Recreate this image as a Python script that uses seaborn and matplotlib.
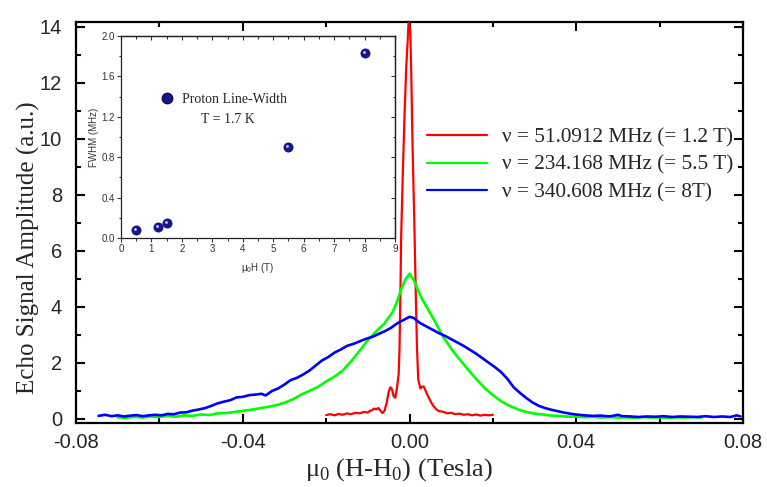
import matplotlib
matplotlib.use("Agg")
import matplotlib.pyplot as plt
import matplotlib.transforms as mtransforms
from matplotlib.lines import Line2D
import pandas as pd
import seaborn as sns

# Echo amplitude (a.u.) versus field offset mu0(H-H0) (T) for the three frequencies
red_pts = [(-0.0200, 0.13), (-0.0190, 0.16), (-0.0180, 0.12), (-0.0170, 0.17), (-0.0160, 0.14),
           (-0.0150, 0.19), (-0.0140, 0.16), (-0.0130, 0.21), (-0.0120, 0.19), (-0.0110, 0.24),
           (-0.0100, 0.22), (-0.0095, 0.28), (-0.0090, 0.30), (-0.0085, 0.36), (-0.0080, 0.33),
           (-0.0075, 0.38), (-0.0070, 0.30), (-0.0065, 0.20), (-0.0060, 0.28), (-0.0055, 0.55),
           (-0.0050, 0.95), (-0.0046, 1.12), (-0.0042, 1.05), (-0.0038, 0.80), (-0.0034, 0.75),
           (-0.0030, 1.10), (-0.0026, 1.60), (-0.0024, 2.45), (-0.0022, 4.30), (-0.0020, 6.50),
           (-0.0016, 8.80), (-0.0012, 10.80), (-0.0008, 12.50), (-0.0004, 13.60), (-0.0002, 14.25),
           (0.0002, 13.80), (0.0004, 12.50), (0.0007, 10.00), (0.0010, 8.00), (0.0012, 6.70),
           (0.0015, 4.50), (0.0018, 2.50), (0.0021, 1.40), (0.0026, 1.08), (0.0030, 1.14),
           (0.0034, 1.15), (0.0038, 1.02), (0.0042, 0.88), (0.0046, 0.76), (0.0052, 0.58),
           (0.0058, 0.44), (0.0064, 0.34), (0.0070, 0.27), (0.0080, 0.25), (0.0090, 0.19),
           (0.0100, 0.21), (0.0110, 0.16), (0.0120, 0.18), (0.0130, 0.14), (0.0140, 0.16),
           (0.0150, 0.12), (0.0160, 0.15), (0.0170, 0.11), (0.0180, 0.14), (0.0190, 0.12),
           (0.0200, 0.14)]

green_pts = [(-0.0700, 0.05), (-0.0680, 0.03), (-0.0660, 0.07), (-0.0640, 0.04), (-0.0620, 0.08),
             (-0.0600, 0.06), (-0.0580, 0.10), (-0.0560, 0.07), (-0.0540, 0.12), (-0.0520, 0.10),
             (-0.0500, 0.15), (-0.0480, 0.13), (-0.0460, 0.19), (-0.0440, 0.20), (-0.0420, 0.24),
             (-0.0400, 0.28), (-0.0380, 0.32), (-0.0360, 0.37), (-0.0340, 0.42), (-0.0320, 0.48),
             (-0.0300, 0.57), (-0.0280, 0.69), (-0.0260, 0.86), (-0.0240, 0.99), (-0.0220, 1.13),
             (-0.0200, 1.33), (-0.0180, 1.50), (-0.0160, 1.72), (-0.0140, 2.05), (-0.0120, 2.42),
             (-0.0100, 2.80), (-0.0080, 3.12), (-0.0060, 3.40), (-0.0040, 3.82), (-0.0030, 4.18),
             (-0.0020, 4.62), (-0.0010, 4.96), (0.0000, 5.18), (0.0010, 4.96), (0.0020, 4.60),
             (0.0030, 4.28), (0.0040, 4.02), (0.0060, 3.50), (0.0080, 2.94), (0.0100, 2.50),
             (0.0120, 2.12), (0.0140, 1.76), (0.0160, 1.42), (0.0180, 1.10), (0.0200, 0.84),
             (0.0220, 0.62), (0.0240, 0.46), (0.0260, 0.33), (0.0280, 0.24), (0.0300, 0.18),
             (0.0320, 0.15), (0.0340, 0.11), (0.0360, 0.10), (0.0380, 0.07), (0.0400, 0.08),
             (0.0420, 0.05), (0.0440, 0.07), (0.0460, 0.04), (0.0480, 0.06), (0.0500, 0.04),
             (0.0520, 0.05), (0.0540, 0.03), (0.0560, 0.06), (0.0580, 0.04), (0.0600, 0.05),
             (0.0620, 0.03), (0.0640, 0.05), (0.0660, 0.04), (0.0680, 0.06), (0.0700, 0.04)]

blue_pts = [(-0.0746, 0.10), (-0.0730, 0.14), (-0.0715, 0.09), (-0.0700, 0.12), (-0.0685, 0.08),
            (-0.0670, 0.11), (-0.0655, 0.13), (-0.0640, 0.09), (-0.0625, 0.12), (-0.0610, 0.14),
            (-0.0595, 0.12), (-0.0580, 0.17), (-0.0565, 0.16), (-0.0550, 0.22), (-0.0535, 0.23),
            (-0.0520, 0.29), (-0.0505, 0.33), (-0.0490, 0.38), (-0.0475, 0.46), (-0.0460, 0.55),
            (-0.0445, 0.61), (-0.0430, 0.66), (-0.0415, 0.76), (-0.0400, 0.78), (-0.0385, 0.84),
            (-0.0370, 0.86), (-0.0355, 0.89), (-0.0345, 0.83), (-0.0330, 0.99), (-0.0315, 1.08),
            (-0.0300, 1.22), (-0.0285, 1.38), (-0.0270, 1.46), (-0.0255, 1.58), (-0.0240, 1.72),
            (-0.0225, 1.90), (-0.0210, 2.08), (-0.0195, 2.20), (-0.0180, 2.36), (-0.0165, 2.47),
            (-0.0150, 2.60), (-0.0135, 2.67), (-0.0120, 2.76), (-0.0105, 2.85), (-0.0090, 2.92),
            (-0.0075, 3.02), (-0.0060, 3.12), (-0.0045, 3.24), (-0.0030, 3.40), (-0.0015, 3.52),
            (0.0000, 3.64), (0.0010, 3.60), (0.0025, 3.42), (0.0040, 3.30), (0.0055, 3.18),
            (0.0070, 3.06), (0.0085, 2.96), (0.0100, 2.84), (0.0115, 2.72), (0.0130, 2.60),
            (0.0145, 2.46), (0.0160, 2.32), (0.0175, 2.16), (0.0190, 2.00), (0.0205, 1.84),
            (0.0220, 1.66), (0.0235, 1.42), (0.0250, 1.12), (0.0265, 0.92), (0.0280, 0.74),
            (0.0295, 0.58), (0.0310, 0.46), (0.0325, 0.38), (0.0340, 0.32), (0.0355, 0.27),
            (0.0370, 0.22), (0.0385, 0.18), (0.0400, 0.15), (0.0420, 0.12), (0.0440, 0.10),
            (0.0460, 0.11), (0.0480, 0.08), (0.0500, 0.14), (0.0510, 0.09), (0.0530, 0.08),
            (0.0550, 0.06), (0.0570, 0.08), (0.0590, 0.07), (0.0610, 0.09), (0.0630, 0.06),
            (0.0650, 0.08), (0.0670, 0.07), (0.0690, 0.06), (0.0710, 0.09), (0.0730, 0.06),
            (0.0750, 0.08), (0.0770, 0.06), (0.0785, 0.12), (0.0794, 0.08)]

series_labels = ["ν = 51.0912 MHz (= 1.2 T)",
                 "ν = 234.168 MHz (= 5.5 T)",
                 "ν = 340.608 MHz (= 8T)"]
series_colors = ["#ff0000", "#00ff00", "#0000ff"]
series_widths = [1.6, 1.9, 1.9]

# Inset: proton line width versus applied field
inset_field = [0.5, 1.2, 1.5, 5.5, 8.0]
inset_fwhm = [0.08, 0.11, 0.15, 0.90, 1.83]

x_ticks = [-0.08, -0.04, 0.00, 0.04, 0.08]
x_ticklabels = ["-0.08", "-0.04", "0.00", "0.04", "0.08"]
y_ticks = [0, 2, 4, 6, 8, 10, 12, 14]

sns.set_theme(style="ticks")
plt.rcParams["font.family"] = ["Liberation Serif", "DejaVu Serif"]
plt.rcParams["mathtext.fontset"] = "custom"
plt.rcParams["mathtext.rm"] = "Liberation Serif"
plt.rcParams["mathtext.sf"] = "Liberation Sans"
plt.rcParams["axes.unicode_minus"] = False

SANS = ["Liberation Sans", "DejaVu Sans"]


def to_frame(pts):
    xs, ys = zip(*pts)
    return pd.DataFrame({"field": xs, "amp": ys})


fig = plt.figure(figsize=(7.67, 4.87), dpi=100)
ax = fig.add_axes([0.0991, 0.1314, 0.8696, 0.8234])

frames = [to_frame(red_pts), to_frame(green_pts), to_frame(blue_pts)]
# green first, blue over it, red on top
for idx in (1, 2, 0):
    sns.lineplot(data=frames[idx], x="field", y="amp", ax=ax, color=series_colors[idx],
                 linewidth=series_widths[idx], estimator=None, sort=False,
                 zorder=3 + idx * 0.1)

ax.set_xlim(-0.08, 0.08)
ax.set_ylim(-0.154, 14.17)
ax.set_xticks(x_ticks)
ax.set_xticklabels(x_ticklabels)
ax.set_xticks([-0.06, -0.02, 0.02, 0.06], minor=True)
ax.set_yticks(y_ticks)
ax.set_yticks([1, 3, 5, 7, 9, 11, 13], minor=True)
ax.tick_params(which="both", direction="in", top=True, right=True, width=1.5, color="black")
ax.tick_params(which="major", length=6.5)
ax.tick_params(which="minor", length=3.5)
ax.tick_params(axis="x", pad=7)
ax.tick_params(axis="y", pad=10)
for lab in ax.get_xticklabels() + ax.get_yticklabels():
    lab.set_family(SANS)
    lab.set_fontsize(14.5)
for sp in ax.spines.values():
    sp.set_linewidth(1.6)
    sp.set_color("black")

ax.set_xlabel("μ$_0$ (H-H$_0$) (Tesla)", fontsize=19)
ax.set_ylabel("Echo Signal Amplitude (a.u.)", fontsize=18)
ax.xaxis.set_label_coords(0.484, -0.082)
ax.yaxis.set_label_coords(-0.0535, 0.436)

handles = [Line2D([], [], color=c, linewidth=1.6) for c in series_colors]
ax.legend(handles, series_labels, loc="center left", frameon=False,
          bbox_to_anchor=(427 / 767, 1 - 165 / 487), bbox_transform=fig.transFigure,
          borderpad=0, borderaxespad=0, handlelength=2.8, handletextpad=0.72,
          labelspacing=0.36, prop={"family": "Liberation Serif", "size": 15.3})

# Inset
axin = fig.add_axes([0.1578, 0.5113, 0.3572, 0.4148])
inset_df = pd.DataFrame({"B": inset_field, "fwhm": inset_fwhm})
sns.scatterplot(data=inset_df, x="B", y="fwhm", ax=axin, color="#16168f", s=44,
                edgecolor="#0b0b5a", linewidth=0.5, zorder=3)
shine = axin.transData + mtransforms.ScaledTranslation(-1 / 100, 1 / 100, fig.dpi_scale_trans)
axin.scatter(inset_field, inset_fwhm, s=4, color="#c8c8ff", linewidths=0,
             transform=shine, zorder=4)
axin.set_xlim(0, 9)
axin.set_ylim(0, 2.0)
axin.set_xticks(range(0, 10))
axin.set_xticks([i + 0.5 for i in range(9)], minor=True)
axin.set_yticks([0.0, 0.4, 0.8, 1.2, 1.6, 2.0])
axin.set_yticklabels(["0.0", "0.4", "0.8", "1.2", "1.6", "2.0"])
axin.set_yticks([0.2, 0.6, 1.0, 1.4, 1.8], minor=True)
axin.tick_params(which="both", direction="out", width=0.8, color="#333333", pad=1.5)
axin.tick_params(which="major", length=3)
axin.tick_params(which="minor", length=1.8)
for lab in axin.get_xticklabels() + axin.get_yticklabels():
    lab.set_family(SANS)
    lab.set_fontsize(7)
    lab.set_color("#333333")
for sp in axin.spines.values():
    sp.set_linewidth(0.9)
    sp.set_color("#222222")

sec_y = axin.secondary_yaxis("right")
sec_y.set_yticks([0.0, 0.4, 0.8, 1.2, 1.6, 2.0])
sec_y.set_yticks([0.2, 0.6, 1.0, 1.4, 1.8], minor=True)
sec_y.tick_params(which="both", direction="in", labelright=False, width=0.8, color="#333333")
sec_y.tick_params(which="major", length=3)
sec_y.tick_params(which="minor", length=1.8)
sec_y.spines["right"].set_linewidth(0.9)
sec_x = axin.secondary_xaxis("top")
sec_x.set_xticks(range(0, 10))
sec_x.set_xticks([i + 0.5 for i in range(9)], minor=True)
sec_x.tick_params(which="both", direction="in", labeltop=False, width=0.8, color="#333333")
sec_x.tick_params(which="major", length=3)
sec_x.tick_params(which="minor", length=1.8)
sec_x.spines["top"].set_linewidth(0.9)

axin.set_xlabel(r"μ$_\mathsf{0}$H (T)", family=SANS, fontsize=7, color="#333333", labelpad=5)
axin.set_ylabel("FWHM (MHz)", family=SANS, fontsize=7, color="#333333", labelpad=2)

leg_in = axin.legend([Line2D([], [], linestyle="none", marker="o", markersize=7.5,
                             markerfacecolor="#16168f", markeredgecolor="#0b0b5a")],
                     ["Proton Line-Width"], loc="center left", frameon=False,
                     bbox_to_anchor=(0.143, 0.688), borderpad=0, borderaxespad=0,
                     handlelength=1.0, handletextpad=0.6,
                     prop={"family": "Liberation Serif", "size": 10})
axin.text(0.389, 0.589, "T = 1.7 K", transform=axin.transAxes, ha="center", va="center",
          family="Liberation Serif", fontsize=10)

fig.savefig("out.png", dpi=100)
